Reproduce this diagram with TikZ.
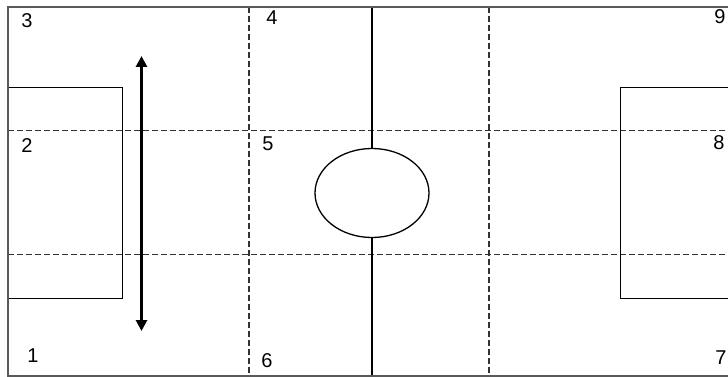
\documentclass[tikz,border=0pt]{standalone}
\usepackage{fontspec}
\setmainfont{Liberation Sans}
\usetikzlibrary{arrows.meta,shapes.geometric}
\begin{document}
\begin{tikzpicture}[x=1pt,y=-1pt,
  frame/.style={draw=black!65,line width=2.2pt},
  thinline/.style={draw=black,line width=1.2pt},
  gridline/.style={draw=black!80,line width=1.2pt,dash pattern=on 6pt off 3pt},
  lbl/.style={font=\fontsize{20}{20}\selectfont,inner sep=0pt,text=black},
  arrowline/.style={line width=2.8pt,{Triangle[length=11pt,width=11pt]}-{Triangle[length=11pt,width=11pt]}}]
\useasboundingbox (0,0) rectangle (728,377);
\fill[white] (0,0) rectangle (728,377);
% dashed grid
\draw[gridline] (8,130.5) -- (728,130.5);
\draw[gridline] (8,254.5) -- (728,254.5);
\draw[gridline] (249,7) -- (249,376);
\draw[gridline] (489,7) -- (489,376);
% goal boxes
\draw[thinline] (8,87.5) -- (122.5,87.5) -- (122.5,298.5) -- (8,298.5);
\draw[thinline] (730,87.5) -- (620.5,87.5) -- (620.5,298.5) -- (730,298.5);
% centre circle and line
\node[draw=black,fill=white,line width=1.3pt,ellipse,minimum width=114pt,minimum height=89pt,inner sep=0pt] (circ) at (372,193) {};
\coordinate (ctop) at (372,7);
\coordinate (cbot) at (372,376);
\draw[thinline] (ctop) -- (circ.north);
\draw[thinline] (circ.south) -- (cbot);
% arrow
\coordinate (atop) at (141.5,56);
\coordinate (abot) at (141.5,331);
\draw[arrowline] (atop) -- (abot);
% outer frame
\draw[frame] (730,7) -- (8,7) -- (8,376) -- (730,376);
% labels
\node[lbl] (l3) at (27,21) {3};
\node[lbl] (l2) at (27,146) {2};
\node[lbl] (l1) at (33,356) {1};
\node[lbl] (l4) at (272,18) {4};
\node[lbl] (l5) at (268,144) {5};
\node[lbl] (l6) at (267,361) {6};
\node[lbl] (l9) at (720,17) {9};
\node[lbl] (l8) at (719,143) {8};
\node[lbl] (l7) at (721,358) {7};
\end{tikzpicture}
\end{document}
